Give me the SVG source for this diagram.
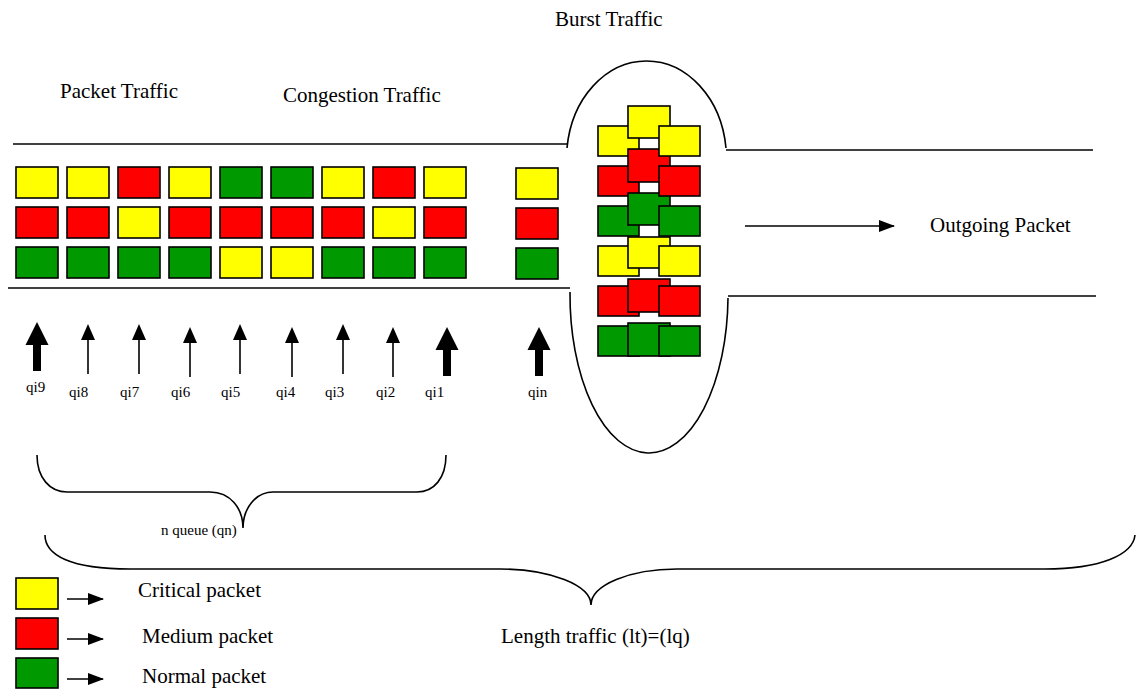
<svg xmlns="http://www.w3.org/2000/svg" width="1136" height="691" viewBox="0 0 1136 691">
<defs>
<style>
.t{font-family:"Liberation Serif","Times New Roman",serif;font-size:21px;fill:#000}
.s{font-family:"Liberation Serif","Times New Roman",serif;font-size:15px;fill:#000}
.ln{stroke:#000;stroke-width:1.6;fill:none}
.y{fill:#ffff00;stroke:#000;stroke-width:1.6}
.r{fill:#ff0000;stroke:#000;stroke-width:1.6}
.g{fill:#009900;stroke:#000;stroke-width:1.6}
.ah{fill:#000}
</style>
<marker id="ar" markerWidth="16" markerHeight="12" refX="15" refY="6" orient="auto" markerUnits="userSpaceOnUse">
<path d="M0,0 L16,6 L0,12 Z" fill="#000"/>
</marker>
</defs>
<rect width="1136" height="691" fill="#fff"/>

<g id="titles">
<text class="t" x="60" y="98">Packet Traffic</text>
<text class="t" x="283" y="102">Congestion Traffic</text>
<text class="t" x="555" y="26">Burst Traffic</text>
<text class="t" x="930" y="232">Outgoing Packet</text>
</g>

<g id="pipe">
<path class="ln" d="M13,144 L567,144"/>
<path class="ln" d="M8,288 L570,288"/>
<path class="ln" d="M567,148 A80,98 0 0 1 726,148"/>
<path class="ln" d="M726,150 L1093,150"/>
<path class="ln" d="M570,292 A79,158 0 0 0 728,298"/>
<path class="ln" d="M728,296 L1096,296"/>
</g>

<g id="queue-packets">
<rect class="y" x="16" y="167" width="42" height="31"/>
<rect class="y" x="67" y="167" width="42" height="31"/>
<rect class="r" x="118" y="167" width="42" height="31"/>
<rect class="y" x="169" y="167" width="42" height="31"/>
<rect class="g" x="220" y="167" width="42" height="31"/>
<rect class="g" x="271" y="167" width="42" height="31"/>
<rect class="y" x="322" y="167" width="42" height="31"/>
<rect class="r" x="373" y="167" width="42" height="31"/>
<rect class="y" x="424" y="167" width="42" height="31"/>
<rect class="r" x="16" y="207" width="42" height="31"/>
<rect class="r" x="67" y="207" width="42" height="31"/>
<rect class="y" x="118" y="207" width="42" height="31"/>
<rect class="r" x="169" y="207" width="42" height="31"/>
<rect class="r" x="220" y="207" width="42" height="31"/>
<rect class="r" x="271" y="207" width="42" height="31"/>
<rect class="r" x="322" y="207" width="42" height="31"/>
<rect class="y" x="373" y="207" width="42" height="31"/>
<rect class="r" x="424" y="207" width="42" height="31"/>
<rect class="g" x="16" y="247" width="42" height="31"/>
<rect class="g" x="67" y="247" width="42" height="31"/>
<rect class="g" x="118" y="247" width="42" height="31"/>
<rect class="g" x="169" y="247" width="42" height="31"/>
<rect class="y" x="220" y="247" width="42" height="31"/>
<rect class="y" x="271" y="247" width="42" height="31"/>
<rect class="g" x="322" y="247" width="42" height="31"/>
<rect class="g" x="373" y="247" width="42" height="31"/>
<rect class="g" x="424" y="247" width="42" height="31"/>
</g>

<g id="qin-packets">
<rect class="y" x="516" y="168" width="42" height="31"/>
<rect class="r" x="516" y="208" width="42" height="31"/>
<rect class="g" x="516" y="248" width="42" height="31"/>
</g>

<g id="burst-packets">
<rect class="y" x="598" y="126" width="41" height="30"/>
<rect class="r" x="598" y="166" width="41" height="30"/>
<rect class="g" x="598" y="206" width="41" height="30"/>
<rect class="y" x="598" y="246" width="41" height="30"/>
<rect class="r" x="598" y="286" width="41" height="30"/>
<rect class="g" x="598" y="326" width="41" height="30"/>
<rect class="y" x="628" y="106" width="42" height="32"/>
<rect class="r" x="628" y="149" width="42" height="33"/>
<rect class="g" x="628" y="193" width="42" height="32"/>
<rect class="y" x="628" y="237" width="42" height="31"/>
<rect class="r" x="628" y="279" width="42" height="33"/>
<rect class="g" x="628" y="323" width="42" height="33"/>
<rect class="y" x="659" y="126" width="41" height="30"/>
<rect class="r" x="659" y="166" width="41" height="30"/>
<rect class="g" x="659" y="206" width="41" height="30"/>
<rect class="y" x="659" y="246" width="41" height="30"/>
<rect class="r" x="659" y="286" width="41" height="30"/>
<rect class="g" x="659" y="326" width="41" height="30"/>
</g>

<g id="connectors">
<path class="ah" d="M37,322 L48.5,345 L41,345 L41,371 L33,371 L33,345 L25.5,345 Z"/>
<path class="ln" d="M88,338 L88,374"/><path class="ah" d="M88,324 L95,340 L81,340 Z"/>
<path class="ln" d="M139,338 L139,374"/><path class="ah" d="M139,324 L146,340 L132,340 Z"/>
<path class="ln" d="M190,341 L190,377"/><path class="ah" d="M190,327 L197,343 L183,343 Z"/>
<path class="ln" d="M240,338 L240,374"/><path class="ah" d="M240,324 L247,340 L233,340 Z"/>
<path class="ln" d="M292,341 L292,377"/><path class="ah" d="M292,327 L299,343 L285,343 Z"/>
<path class="ln" d="M343,338 L343,374"/><path class="ah" d="M343,324 L350,340 L336,340 Z"/>
<path class="ln" d="M393,341 L393,377"/><path class="ah" d="M393,327 L400,343 L386,343 Z"/>
<path class="ah" d="M447,327 L458.5,350 L451,350 L451,376 L443,376 L443,350 L435.5,350 Z"/>
<path class="ah" d="M539,327 L550.5,350 L543,350 L543,376 L535,376 L535,350 L527.5,350 Z"/>
<path class="ln" d="M745,226 L894,226" marker-end="url(#ar)"/>
<path class="ln" d="M67,599 L103,599" marker-end="url(#ar)"/>
<path class="ln" d="M67,639 L103,639" marker-end="url(#ar)"/>
<path class="ln" d="M67,679 L103,679" marker-end="url(#ar)"/>
</g>

<g id="queue-labels">
<text class="s" x="26" y="392">qi9</text>
<text class="s" x="69" y="397">qi8</text>
<text class="s" x="120" y="397">qi7</text>
<text class="s" x="171" y="397">qi6</text>
<text class="s" x="221" y="397">qi5</text>
<text class="s" x="276" y="397">qi4</text>
<text class="s" x="325" y="397">qi3</text>
<text class="s" x="376" y="397">qi2</text>
<text class="s" x="425" y="397">qi1</text>
<text class="s" x="528" y="397">qin</text>
</g>

<g id="n-queue-brace">
<path class="ln" d="M37,455 C37,478 50,492 67,492 L210,492 C230,492 243,508 243,528 C243,508 256,492 273,492 L417,492 C434,492 446,478 446,455"/>
<text class="s" x="161" y="535">n queue (qn)</text>
</g>

<g id="length-brace">
<path class="ln" d="M45,535 C45,555 70,569 130,569 L500,569 C550,569 591,585 591,605 C591,585 630,569 677,569 L1045,569 C1100,569 1133,555 1135,535"/>
<text class="t" x="501" y="643">Length traffic (lt)=(lq)</text>
</g>

<g id="legend">
<rect class="y" x="16" y="578" width="42" height="31"/>
<rect class="r" x="16" y="618" width="42" height="31"/>
<rect class="g" x="16" y="658" width="42" height="30"/>
<text class="t" x="138" y="597">Critical packet</text>
<text class="t" x="142" y="643">Medium packet</text>
<text class="t" x="142" y="683">Normal packet</text>
</g>
</svg>
